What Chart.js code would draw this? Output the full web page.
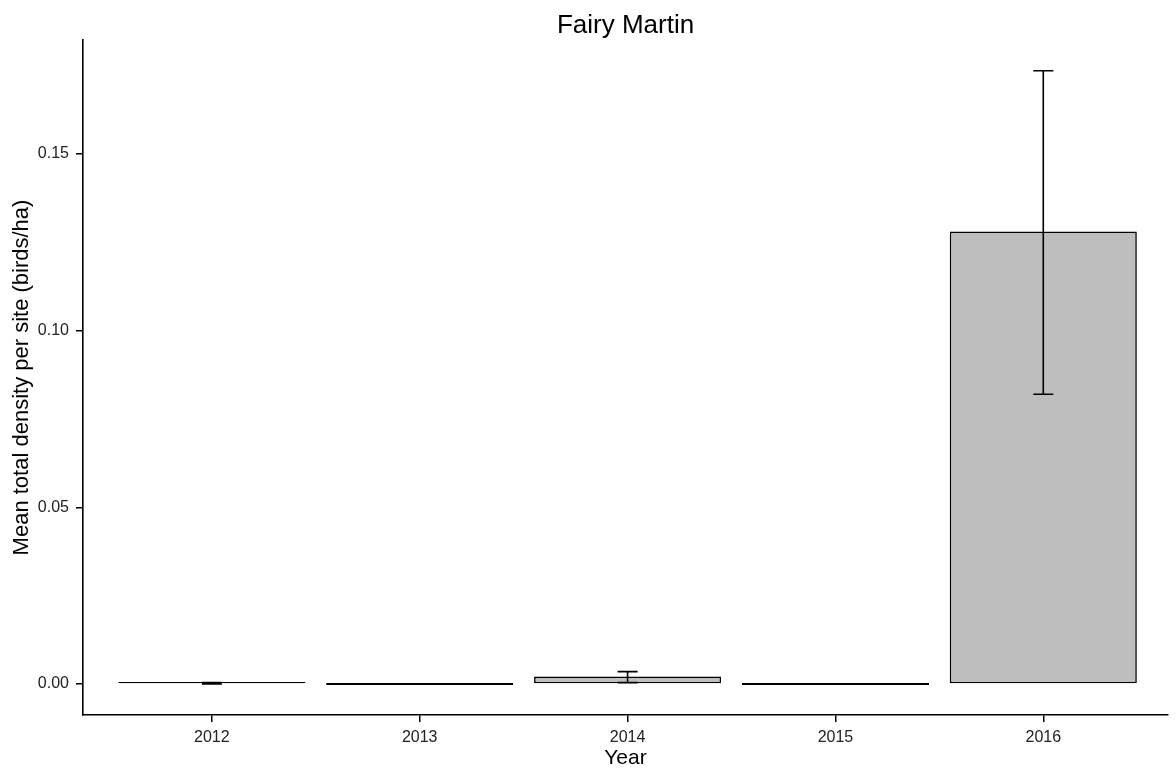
<!DOCTYPE html>
<html>
<head>
<meta charset="utf-8">
<script src="https://cdn.jsdelivr.net/npm/chart.js@4/dist/chart.umd.min.js"></script>
<style>
  html, body { margin: 0; padding: 0; background: #fff; }
  #wrap { width: 1176px; height: 772px; }
</style>
</head>
<body>
<div id="wrap"><canvas id="myChart"></canvas></div>
<script>
// data
const years = [2012, 2013, 2014, 2015, 2016];
const means = [0.0002, 0, 0.0021, 0, 0.128];
const lower = [0.0000, 0, 0.0004, 0, 0.082];
const upper = [0.0004, 0, 0.0035, 0, 0.1735];
const yTicks = [0, 0.05, 0.10, 0.15];

const FONT = "'Liberation Sans', Arial, sans-serif";

// error bars + title drawn on top of the bars
const errorBars = {
  id: "errorBars",
  afterDatasetsDraw(chart) {
    const { ctx, scales: { x, y }, chartArea } = chart;
    ctx.save();
    ctx.strokeStyle = "#000";
    ctx.lineWidth = 1.6;
    years.forEach((yr, i) => {
      const px = x.getPixelForValue(yr);
      const top = y.getPixelForValue(upper[i]);
      const bot = y.getPixelForValue(lower[i]);
      const cap = 10;
      ctx.beginPath();
      ctx.moveTo(px, top); ctx.lineTo(px, bot);
      ctx.moveTo(px - cap, top); ctx.lineTo(px + cap, top);
      ctx.moveTo(px - cap, bot); ctx.lineTo(px + cap, bot);
      ctx.stroke();
    });
    // title centred on the plot panel
    ctx.fillStyle = "#000";
    ctx.font = "26px " + FONT;
    ctx.textAlign = "center";
    ctx.textBaseline = "middle";
    ctx.fillText("Fairy Martin", (chartArea.left + chartArea.right) / 2, 26);
    ctx.restore();
  }
};

const ctx = document.getElementById("myChart").getContext("2d");
new Chart(ctx, {
  type: "bar",
  data: {
    datasets: [{
      data: years.map((yr, i) => ({ x: yr, y: means[i] })),
      backgroundColor: "#BEBEBE",
      borderColor: "#000",
      borderWidth: 1.6,
      borderSkipped: false,
      minBarLength: 2,
      barPercentage: 0.9,
      categoryPercentage: 1.0
    }]
  },
  options: {
    responsive: true,
    maintainAspectRatio: false,
    animation: false,
    layout: { padding: { top: 40, right: 8, left: 0, bottom: 0 } },
    plugins: {
      legend: { display: false },
      tooltip: { enabled: false },
      title: { display: false }
    },
    scales: {
      x: {
        type: "linear",
        offset: false,
        min: 2011.38,
        max: 2016.6,
        afterBuildTicks: (scale) => { scale.ticks = years.map(v => ({ value: v })); },
        afterFit: (scale) => { scale.height = 57; },
        ticks: {
          color: "#222",
          font: { family: FONT, size: 16 },
          padding: 6,
          maxRotation: 0,
          callback: (v) => String(v)
        },
        grid: { display: true, offset: false, drawOnChartArea: false, drawTicks: true, tickLength: 7, color: "#000", lineWidth: 1.5 },
        border: { display: true, color: "#000", width: 1.6 },
        title: {
          display: true,
          text: "Year",
          color: "#000",
          font: { family: FONT, size: 21 },
          padding: { top: 0, bottom: 1 }
        }
      },
      y: {
        min: -0.00876,
        max: 0.1822,
        afterBuildTicks: (scale) => { scale.ticks = yTicks.map(v => ({ value: v })); },
        afterFit: (scale) => { scale.width = 83; },
        ticks: {
          color: "#222",
          font: { family: FONT, size: 16 },
          padding: 7,
          callback: (v) => v.toFixed(2)
        },
        grid: { display: true, drawOnChartArea: false, drawTicks: true, tickLength: 7, color: "#000", lineWidth: 1.5 },
        border: { display: true, color: "#000", width: 1.6 },
        title: {
          display: true,
          text: "Mean total density per site (birds/ha)",
          color: "#000",
          font: { family: FONT, size: 22 },
          padding: { top: 9, bottom: 0 }
        }
      }
    }
  },
  plugins: [errorBars]
});
</script>
</body>
</html>
